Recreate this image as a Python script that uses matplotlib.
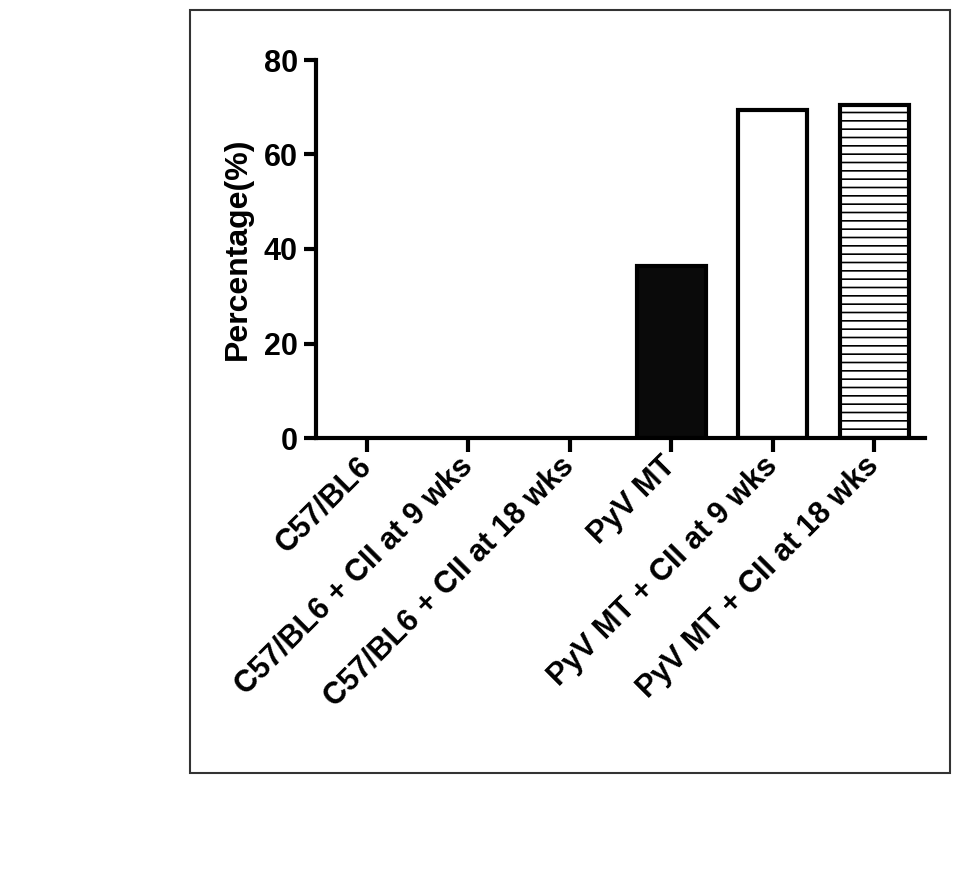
import matplotlib
matplotlib.use("Agg")
import matplotlib.pyplot as plt
from matplotlib.patches import Rectangle

categories = ["C57/BL6", "C57/BL6 + CII at 9 wks", "C57/BL6 + CII at 18 wks",
              "PyV MT", "PyV MT + CII at 9 wks", "PyV MT + CII at 18 wks"]
values = [0, 0, 0, 36.4, 69.4, 70.4]
yticks = [0, 20, 40, 60, 80]

plt.rcParams['font.family'] = ['Liberation Sans', 'DejaVu Sans']
plt.rcParams['font.weight'] = 'bold'
plt.rcParams['hatch.linewidth'] = 1.2

fig = plt.figure(figsize=(9.61, 8.84), dpi=100)
fig.patches.append(Rectangle((190/961, 1-773/884), 760/961, 763/884,
                             transform=fig.transFigure, fill=False,
                             edgecolor='#333333', linewidth=1.5))
ax = fig.add_axes([316/961, 1-438/884, 609/961, 378/884])

faces = ['#0a0a0a', '#0a0a0a', '#0a0a0a', '#0a0a0a', 'white', 'white']
hatches = [None, None, None, None, None, '--']
x = list(range(len(categories)))
for i, v in enumerate(values):
    if v > 0:
        ax.bar(i, v, width=0.68, color=faces[i], edgecolor='black',
               linewidth=3, hatch=hatches[i], zorder=2)

ax.set_xlim(-0.5, 5.5)
ax.set_ylim(0, 80)
ax.set_yticks(yticks)
ax.set_xticks(x)
ax.set_xticklabels(categories, rotation=45, ha='right', va='center',
                   rotation_mode='anchor', fontsize=22, fontweight='bold')
ax.tick_params(axis='x', length=10, width=3, pad=7)
ax.tick_params(axis='y', length=9, width=3, labelsize=22, pad=4)
for lab in ax.get_yticklabels():
    lab.set_fontweight('bold')
ax.set_ylabel("Percentage(%)", fontsize=23, fontweight='bold', labelpad=8)
for s in ['top', 'right']:
    ax.spines[s].set_visible(False)
for s in ['left', 'bottom']:
    ax.spines[s].set_linewidth(3)
ax.set_facecolor('none')

fig.savefig("out.png", dpi=100)
